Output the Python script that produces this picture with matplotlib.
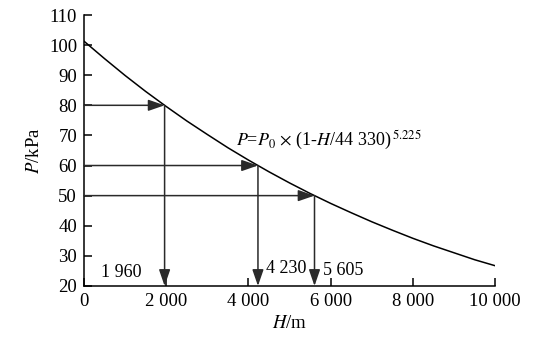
import matplotlib
matplotlib.use('Agg')
import matplotlib.pyplot as plt

plt.rcParams['font.family'] = ['Liberation Serif', 'DejaVu Serif']
plt.rcParams['mathtext.fontset'] = 'stix'

# curve (H in m, P in kPa)
H = [0, 500, 1000, 1500, 2000, 2500, 3000, 3500, 4000, 4500, 5000,
     5500, 6000, 6500, 7000, 7500, 8000, 8500, 9000, 9500, 10000]
P = [101.3, 95.5, 89.9, 84.6, 79.6, 74.8, 70.3, 65.9, 61.8, 57.9, 54.2,
     50.7, 47.4, 44.3, 41.3, 38.5, 35.8, 33.3, 31.0, 28.7, 26.7]

# read-off points
arrow_P = [80, 60, 50]
arrow_H = [1960, 4230, 5605]
arrow_labels = ['1 960', '4 230', '5 605']

xticks = [0, 2000, 4000, 6000, 8000, 10000]
xtick_labels = ['0', '2 000', '4 000', '6 000', '8 000', '10 000']
yticks = [20, 30, 40, 50, 60, 70, 80, 90, 100, 110]

fig = plt.figure(figsize=(5.44, 3.53), dpi=100)
ax = fig.add_axes([0.1544, 0.19, 0.756, 0.7675])

ax.plot(H, P, color='black', lw=1.1)

arrow_style = '-|>,head_length=0.55,head_width=0.19'
for p, h in zip(arrow_P, arrow_H):
    ax.annotate('', xy=(h, p), xytext=(0, p),
                arrowprops=dict(arrowstyle=arrow_style, color='#2a2a2a', lw=1.1,
                                mutation_scale=18, shrinkA=0, shrinkB=0))
    ax.annotate('', xy=(h, 20), xytext=(h, p),
                arrowprops=dict(arrowstyle=arrow_style, color='#2a2a2a', lw=1.1,
                                mutation_scale=18, shrinkA=0, shrinkB=0))

# labels of read-off values
ax.text(900, 24.5, arrow_labels[0], fontsize=13, ha='center', va='center')
ax.text(4420, 25.8, arrow_labels[1], fontsize=13, ha='left', va='center')
ax.text(5800, 25.0, arrow_labels[2], fontsize=13, ha='left', va='center')

ax.text(3700, 68.3, r'$P$=$P_0$ $\times$ (1-$H$/44 330)$^{\,5.225}$',
        fontsize=13, ha='left', va='center')

ax.set_xlim(0, 10000)
ax.set_ylim(20, 110)
ax.set_xticks(xticks)
ax.set_xticklabels(xtick_labels)
ax.set_yticks(yticks)
ax.tick_params(direction='in', length=6, width=1.1, labelsize=13.5, pad=5)
ax.spines['top'].set_visible(False)
ax.spines['right'].set_visible(False)
ax.spines['left'].set_linewidth(1.1)
ax.spines['bottom'].set_linewidth(1.1)

ax.set_xlabel(r'$H$/m', fontsize=13.5, labelpad=4)
ax.set_ylabel(r'$P$/kPa', fontsize=13.5, labelpad=4)

fig.savefig('out.png', dpi=100)
